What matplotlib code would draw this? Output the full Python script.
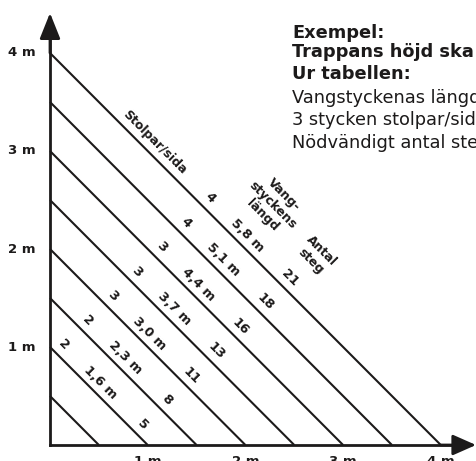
import matplotlib
matplotlib.use("Agg")
import matplotlib.pyplot as plt

# stair table: diagonal lines (rise + run in metres) and their labels
intercepts = [0.5, 1.0, 1.5, 2.0, 2.5, 3.0, 3.5, 4.0]
stolpar = ["2", "2", "3", "3", "3", "4", "4"]
langd = ["1,6 m", "2,3 m", "3,0 m", "3,7 m", "4,4 m", "5,1 m", "5,8 m"]
steg = ["5", "8", "11", "13", "16", "18", "21"]
ticks = [1, 2, 3, 4]
tick_labels = ["1 m", "2 m", "3 m", "4 m"]
info_lines = ["Exempel:", "Trappans höjd ska", "Ur tabellen:",
              "Vangstyckenas längd", "3 stycken stolpar/sida", "Nödvändigt antal steg"]
info_bold = [True, True, True, False, False, False]

ink = "#1c1a1a"
W, H = 476, 461
fig = plt.figure(figsize=(W / 100, H / 100), dpi=100)
ax = fig.add_axes([0, 0, 1, 1])
px = 97.7
py = 98.0
ox, oy = 50, 445
ax.set_xlim(-ox / px, (W - ox) / px)
ax.set_ylim(-(H - oy) / py, oy / py)
ax.axis("off")

# diagonals
for c in intercepts:
    ax.plot([0, c], [c, 0], color=ink, lw=1.5, solid_capstyle="butt")

# axes with arrows
ax.plot([0, 0], [0, 4.2], color=ink, lw=2.0)
ax.plot([0, 4.2], [0, 0], color=ink, lw=2.0)
ax.annotate("", xy=(0, (oy - 13) / py), xytext=(0, 4.0),
            arrowprops=dict(arrowstyle="-|>,head_length=1.05,head_width=0.42",
                            color=ink, lw=2.0, mutation_scale=15,
                            shrinkA=0, shrinkB=0))
ax.annotate("", xy=((W - ox) / px, 0), xytext=(4.0, 0),
            arrowprops=dict(arrowstyle="-|>,head_length=0.95,head_width=0.42",
                            color=ink, lw=2.0, mutation_scale=15,
                            shrinkA=0, shrinkB=0))

for t, lab in zip(ticks, tick_labels):
    ax.text(-14 / px, t, lab, ha="right", va="center", fontsize=9.5,
            fontweight="bold", color=ink)
    # bottom labels sit partly below the picture edge, as in the original
    ax.text(t, -10 / py, lab, ha="center", va="top", fontsize=9.5,
            fontweight="bold", color=ink)


def put(c, d, s, size=9.4, **kw):
    # c = x + y (which line), d = x - y (position along it)
    ax.text((c + d) / 2, (c - d) / 2, s, rotation=-45, rotation_mode="anchor",
            ha="center", va="center", fontsize=size, fontweight="bold",
            color=ink, **kw)


off = 0.16
for c, a, b, n in zip(intercepts[1:], stolpar, langd, steg):
    put(c + off, -0.88, a)
    put(c + off, -0.12, b)
    put(c + off, 0.74, n)

put(4.16, -2.01, "Stolpar/sida", size=9)
put(4.73, -0.17, "Vang-\nstyckens\nlängd", size=9, multialignment="center", linespacing=1.2)
put(4.65, 0.79, "Antal\nsteg", size=9, multialignment="center", linespacing=1.2)

# example text, cut by the right edge
baselines = [38, 57, 79, 103, 125, 148]
for yb, line, b in zip(baselines, info_lines, info_bold):
    ax.text((292 - ox) / px, (oy - yb) / py, line, ha="left", va="baseline",
            fontsize=12.8, fontweight="bold" if b else "normal", color=ink)

fig.savefig("out.png", dpi=100)
